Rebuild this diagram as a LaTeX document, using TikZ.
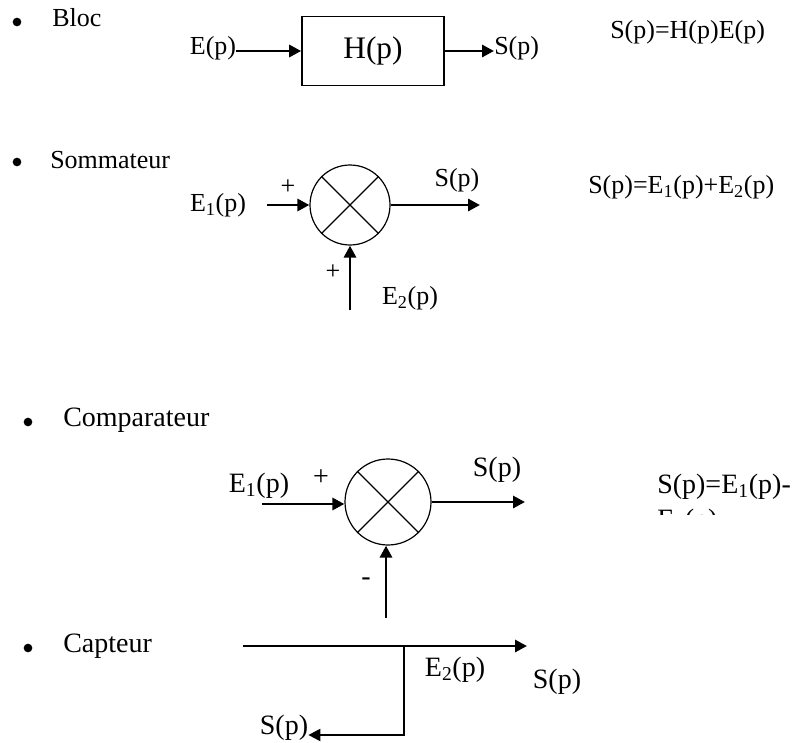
\documentclass[tikz,border=0pt]{standalone}
\usepackage{fontspec}
\setmainfont{Liberation Serif}
\usetikzlibrary{arrows.meta}
\newcommand\sbs[1]{\textsubscript{#1}}
\begin{document}
\begin{tikzpicture}[x=0.75pt,y=-0.75pt,
  txt/.style={font=\fontsize{19.5}{22}\selectfont, inner sep=0pt},
  txtL/.style={font=\fontsize{21}{24}\selectfont, inner sep=0pt},
  tip/.style={-{Triangle[length=9pt,width=9pt]}},
  sig/.style={line width=2.2pt, tip},
  thinline/.style={line width=0.9pt},
  bul/.style={circle, fill, inner sep=0pt, minimum size=6.5pt},
  sumnode/.style={circle, draw, line width=0.9pt, inner sep=0pt}]
\useasboundingbox (0,0) rectangle (795,742);

% ---- Bloc
\node[bul] (b1) at (17,22) {};
\node[txt, anchor=west] (t1) at (52,18) {Bloc};
\node[draw, line width=1.2pt, minimum width=106.5pt, minimum height=51.75pt, inner sep=0pt, font=\fontsize{23.5}{26}\selectfont] (H) at (373,51) {H(p)};
\node[txt] (E) at (213,48) {E(p)};
\draw[sig] (E.east |- H) -- (H.west);
\node[txt, anchor=west] (S1) at (494,48) {S(p)};
\draw[sig] (H.east) -- (S1.west |- H);
\node[txt, anchor=west] (eq1) at (610,32) {S(p)=H(p)E(p)};

% ---- Sommateur
\node[bul] (b2) at (17,162) {};
\node[txt, anchor=west] (t2) at (50,160) {Sommateur};
\node[sumnode, minimum size=60pt] (C1) at (350,205) {};
\draw[thinline] (C1.north west) -- (C1.south east) (C1.north east) -- (C1.south west);
\node[txt] (E1a) at (218,205) {E\sbs{1}(p)};
\coordinate (in1) at (267,205);
\draw[sig] (in1) -- (C1.west);
\node[txt] (p1) at (288,187) {+};
\node[txt] (S2) at (457,180) {S(p)};
\coordinate (o2) at (480,205);
\draw[sig] (C1.east) -- (o2);
\coordinate (e2b) at (350,310);
\draw[sig] (e2b) -- (C1.south);
\node[txt] (p2) at (333,272) {+};
\node[txt] (E2a) at (410,298) {E\sbs{2}(p)};
\node[txt, anchor=west] (eq2) at (588,187) {S(p)=E\sbs{1}(p)+E\sbs{2}(p)};

% ---- Comparateur
\node[bul] (b3) at (28,422) {};
\node[txtL, anchor=west] (t3) at (63,420) {Comparateur};
\node[sumnode, minimum size=64.5pt] (C2) at (388,502) {};
\draw[thinline] (C2.north west) -- (C2.south east) (C2.north east) -- (C2.south west);
\node[txtL] (E1b) at (259,486) {E\sbs{1}(p)};
\coordinate (in2) at (262,504);
\draw[sig] (in2) -- (C2.west |- in2);
\node[txtL] (p3) at (321,478) {+};
\node[txtL] (S3) at (497,470) {S(p)};
\coordinate (o3) at (525,502);
\draw[sig] (C2.east) -- (o3);
\coordinate (e3b) at (386,618);
\draw[sig] (e3b) -- (e3b |- C2.south);
\node[txtL] (m3) at (366,582) {-};
\node[txtL, anchor=west] (eq3) at (657,487) {S(p)=E\sbs{1}(p)-};
\begin{scope}
  \clip (640,500) rectangle (795,514);
  \node[txtL, anchor=west] (eq3b) at (657,522) {E\sbs{2}(p)};
\end{scope}

% ---- Capteur
\node[bul] (b4) at (28,648) {};
\node[txtL, anchor=west] (t4) at (63,646) {Capteur};
\coordinate (c0) at (243,646);
\coordinate (c1) at (527,646);
\coordinate (cb) at (404,646);
\coordinate (cc) at (404,735);
\draw[sig] (c0) -- (c1);
\node[txtL] (Sc) at (284,728) {S(p)};
\draw[line width=1.6pt, tip] (cb) -- (cc) -- (Sc.east |- cc);
\node[txtL] (E2c) at (455,670) {E\sbs{2}(p)};
\node[txtL] (S4) at (557,682) {S(p)};
\end{tikzpicture}
\end{document}
